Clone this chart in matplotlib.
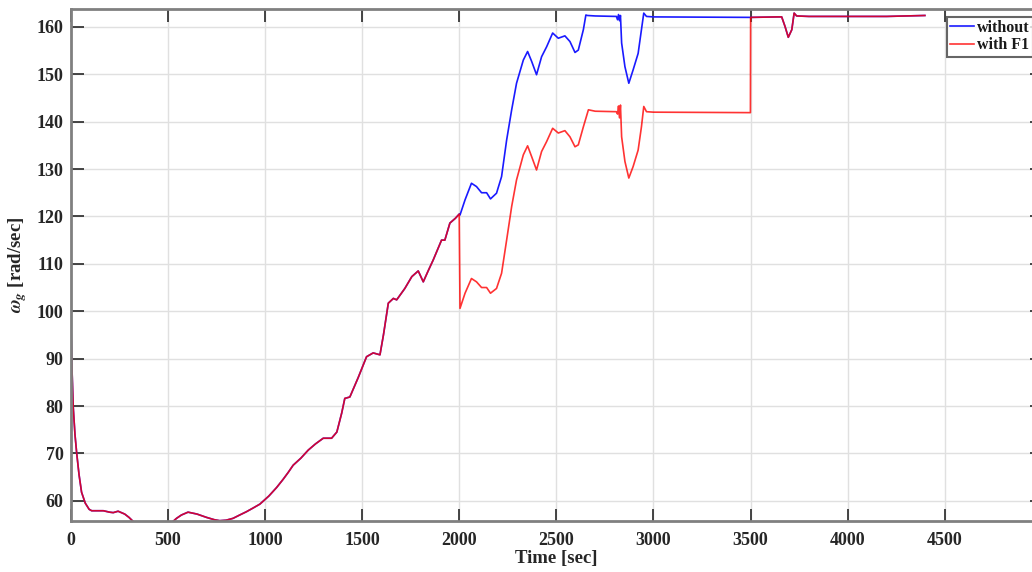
import numpy as np
import matplotlib
matplotlib.use("Agg")
from matplotlib import pyplot as plt

# shared part of both runs (0 .. 2000 s)
t_common = [0, 5, 13, 22, 31, 43, 56, 75, 95, 108, 140, 168, 200, 219, 244, 278,
            300, 330, 380, 430, 480, 520, 545, 570, 604, 650, 699, 740, 767, 800,
            836, 870, 905, 940, 974, 1020, 1060, 1093, 1120, 1145, 1185, 1223,
            1260, 1300, 1343, 1370, 1395, 1411, 1437, 1480, 1523, 1557, 1592,
            1610, 1635, 1661, 1678, 1720, 1756, 1789, 1815, 1840, 1866, 1909,
            1926, 1952, 1980, 2000]
w_common = [100, 90, 79.8, 74, 70, 65.5, 61.8, 59.5, 58.2, 57.9, 57.9, 57.9, 57.6,
            57.5, 57.8, 57.2, 56.5, 55.3, 54.4, 54.2, 54.6, 55.4, 56.3, 57.0, 57.6,
            57.2, 56.5, 56.0, 55.8, 55.9, 56.3, 57.0, 57.7, 58.5, 59.3, 61.0, 62.8,
            64.5, 66.0, 67.5, 69.0, 70.7, 72.0, 73.2, 73.2, 74.5, 78.5, 81.6, 81.9,
            86.0, 90.4, 91.2, 90.8, 95.0, 101.7, 102.7, 102.4, 104.8, 107.3, 108.5,
            106.2, 108.5, 110.8, 115.0, 115.0, 118.6, 119.6, 120.5]

# "without" between 2000 and 3500 s
t_without = [2004, 2030, 2063, 2089, 2115, 2141, 2161, 2192, 2218, 2244, 2270, 2295,
             2330, 2352, 2373, 2398, 2424, 2450, 2481, 2510, 2544, 2570, 2596, 2613,
             2639, 2652, 2660, 2700, 2809, 2815, 2820, 2825, 2830, 2836, 2853, 2873,
             2895, 2921, 2938, 2950, 2964, 3000, 3499]
w_without = [120.3, 123.5, 127.0, 126.3, 125.0, 125.0, 123.7, 124.9, 128.4, 136.1,
             142.5, 148.1, 153.0, 154.8, 152.7, 149.9, 153.7, 155.8, 158.7, 157.6,
             158.1, 156.9, 154.6, 155.1, 159.4, 162.5, 162.4, 162.3, 162.2, 161.5,
             162.6, 161.3, 162.4, 156.6, 151.6, 148.1, 150.9, 154.4, 159.4, 162.9,
             162.2, 162.1, 162.0]

# "with F1" between 2000 and 3500 s
t_f1 = [2000, 2004, 2030, 2063, 2089, 2115, 2141, 2161, 2192, 2218, 2244, 2270, 2295,
        2330, 2352, 2373, 2398, 2424, 2450, 2481, 2510, 2544, 2570, 2596, 2613, 2639,
        2665, 2700, 2809, 2815, 2820, 2825, 2830, 2836, 2853, 2873, 2895, 2921, 2938,
        2950, 2964, 3000, 3499]
w_f1 = [120.5, 100.6, 103.8, 106.9, 106.2, 105.0, 105.0, 103.8, 104.8, 108.0, 115.0,
        122.1, 127.7, 133.0, 134.9, 132.6, 129.8, 133.7, 135.8, 138.6, 137.6, 138.1,
        136.8, 134.7, 135.1, 138.9, 142.5, 142.2, 142.1, 141.6, 143.3, 140.8, 143.5,
        136.8, 131.6, 128.1, 130.5, 134.0, 138.9, 143.2, 142.1, 142.0, 141.9]

# shared part after 3500 s
t_end = [3500, 3640, 3660, 3677, 3694, 3712, 3724, 3737, 3800, 4200, 4397]
w_end = [162.0, 162.1, 162.1, 160.1, 157.8, 159.4, 162.9, 162.3, 162.2, 162.2, 162.4]

x_ticks = np.arange(0, 5001, 500)
x_labels = [str(v) for v in x_ticks[:-1]] + [""]
y_ticks = np.arange(60, 161, 10)

plt.rcParams["font.family"] = ["Liberation Serif", "DejaVu Serif"]
plt.rcParams["font.weight"] = "bold"
plt.rcParams["mathtext.fontset"] = "stix"

fig = plt.figure(figsize=(10.32, 5.72), dpi=100)
ax = fig.add_axes([0.0685, 0.0897, 0.9412, 0.894])

blue_t = t_common + t_without + t_end
blue_w = w_common + w_without + w_end
red_t = t_common + t_f1 + t_end
red_w = w_common + w_f1 + w_end

ax.plot(blue_t, blue_w, color="#1a1aff", lw=1.2, label="without")
ax.plot(red_t, red_w, color="#ff0000", lw=1.2, alpha=0.8, label="with F1")

ax.set_xlim(0, 5000)
ax.set_ylim(55.8, 163.7)
ax.set_xticks(x_ticks)
ax.set_xticklabels(x_labels)
ax.set_yticks(y_ticks)
ax.grid(True, color="#e0e0e0", lw=1.0)
ax.set_axisbelow(True)

ax.tick_params(direction="in", length=9, width=1.2, colors="#262626",
               labelsize=13, top=True, right=True)
ax.tick_params(axis="x", pad=8)
ax.tick_params(axis="y", pad=5)
for s in ax.spines.values():
  s.set_color("#808080")
  s.set_linewidth(2)

ax.set_xlabel("Time [sec]", fontsize=13.5, fontweight="bold", color="#262626", labelpad=1)
ax.set_ylabel(r"$\omega_g$ [rad/sec]", fontsize=13.5, fontweight="bold",
              color="#262626", labelpad=6)

leg = ax.legend(loc="upper left", bbox_to_anchor=(0.9173, 0.9708),
                bbox_transform=fig.transFigure, fontsize=11.5, handlelength=1.5,
                handletextpad=0.2, labelspacing=0.1, borderpad=0.2,
                borderaxespad=0, fancybox=False)
leg.get_frame().set_edgecolor("#404040")
leg.get_frame().set_linewidth(1.5)
for txt in leg.get_texts():
  txt.set_color("#1a1a1a")

fig.savefig("out.png", dpi=100)
